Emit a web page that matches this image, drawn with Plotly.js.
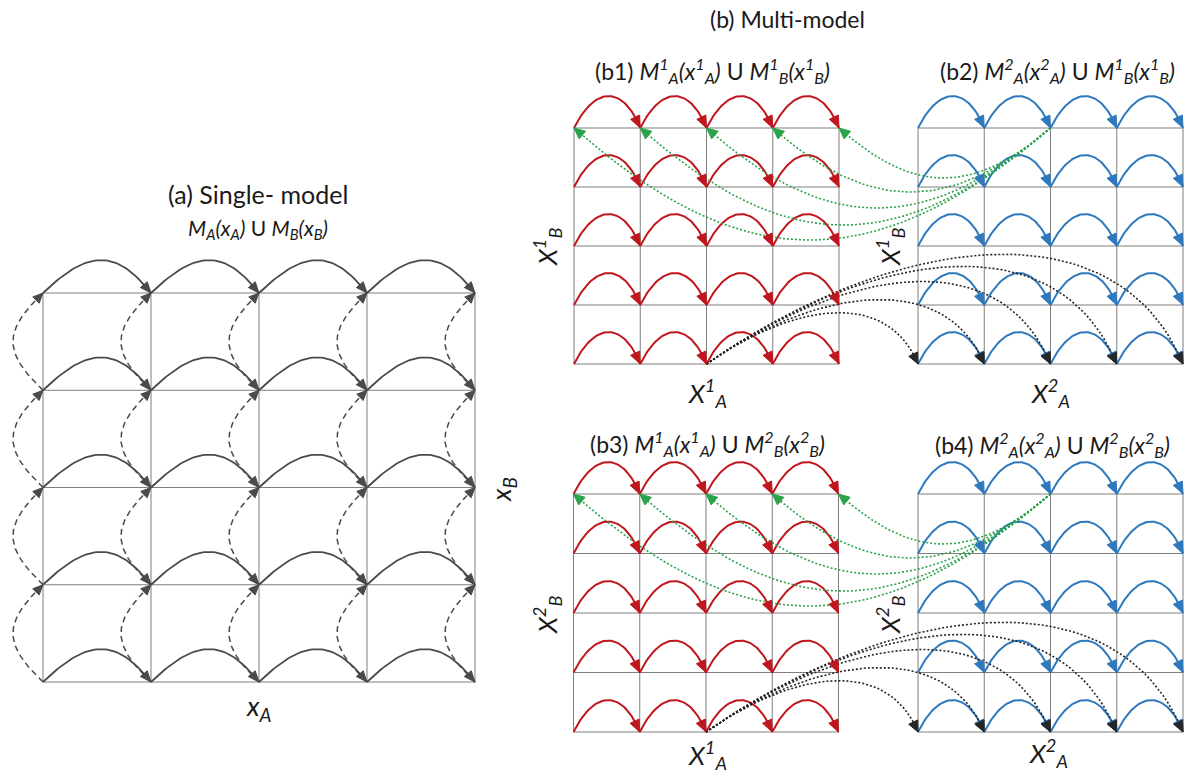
<!DOCTYPE html>
<html><head><meta charset="utf-8">
<script src="https://cdn.plot.ly/plotly-3.0.1.min.js"></script>
<style>html,body{margin:0;padding:0;background:#fff}#chart{width:1190px;height:778px}</style>
</head><body><div id="chart"></div>
<script>
// ---------------- data ----------------
const nodeCols = [0, 1, 2, 3, 4];          // grid node index along x_A
const nodeRows = [0, 1, 2, 3, 4];          // grid node index along x_B
const greenSource = 2;                      // top-row node of right panel
const greenTargets = [0, 1, 2, 3, 4];       // top-row nodes of left panel
const greenDepth = [112, 97, 80, 64, 50];   // dip of each cross-model link
const blackSource = 2;                      // bottom-row node of left panel
const blackTargets = [0, 1, 2, 3, 4];       // bottom-row nodes of right panel
const blackRise = [51, 64, 82, 97, 109];    // rise of each cross-model link
const headTitles = ['(a) Single- model', '(b) Multi-model'];
const subTitleA = '<i>M<sub>A</sub>(x<sub>A</sub>)</i> U <i>M<sub>B</sub>(x<sub>B</sub>)</i>';
const subTitlesB = [
  '(b1) <i>M<sup>1</sup><sub>A</sub>(x<sup>1</sup><sub>A</sub>)</i> U <i>M<sup>1</sup><sub>B</sub>(x<sup>1</sup><sub>B</sub>)</i>',
  '(b2) <i>M<sup>2</sup><sub>A</sub>(x<sup>2</sup><sub>A</sub>)</i> U <i>M<sup>1</sup><sub>B</sub>(x<sup>1</sup><sub>B</sub>)</i>',
  '(b3) <i>M<sup>1</sup><sub>A</sub>(x<sup>1</sup><sub>A</sub>)</i> U <i>M<sup>2</sup><sub>B</sub>(x<sup>2</sup><sub>B</sub>)</i>',
  '(b4) <i>M<sup>2</sup><sub>A</sub>(x<sup>2</sup><sub>A</sub>)</i> U <i>M<sup>2</sup><sub>B</sub>(x<sup>2</sup><sub>B</sub>)</i>'
];
const axisLabelsA = ['<i>x<sub>A</sub></i>', '<i>x<sub>B</sub></i>'];
const axisLabelsB = {
  b1x: '<i>X<sup>1</sup><sub>A</sub></i>', b2x: '<i>X<sup>2</sup><sub>A</sub></i>',
  b3x: '<i>X<sup>1</sup><sub>A</sub></i>', b4x: '<i>X<sup>2</sup><sub>A</sub></i>',
  row1y: '<i>X<sup>1</sup><sub>B</sub></i>', row2y: '<i>X<sup>2</sup><sub>B</sub></i>'
};

// ---------------- layout geometry ----------------
const RED = '#c0161d', BLUE = '#2e78bd', GREEN = '#2aa34a', BLACK = '#262626', GREY = '#4a4a4a', GRID = '#7f7f7f';
const panels = {
  a:  {x0: 43,    y0: 293, w: 108,   h: 97.25, arcH: 33, s1: 0.42, s2: 0.32},
  b1: {x0: 574,   y0: 128, w: 66.25, h: 59,    arcH: 32, s1: 0.32, s2: 0.26},
  b2: {x0: 918,   y0: 128, w: 66.25, h: 59,    arcH: 32, s1: 0.32, s2: 0.26},
  b3: {x0: 573.5, y0: 494, w: 66.25, h: 59.5,  arcH: 32, s1: 0.32, s2: 0.26},
  b4: {x0: 918,   y0: 494, w: 66.25, h: 59.5,  arcH: 32, s1: 0.32, s2: 0.26}
};
function node(p, c, r) { return [p.x0 + c * p.w, p.y0 + r * p.h]; }

function bezPoint(p0, p1, p2, p3, t) {
  const u = 1 - t;
  return [u*u*u*p0[0] + 3*u*u*t*p1[0] + 3*u*t*t*p2[0] + t*t*t*p3[0],
          u*u*u*p0[1] + 3*u*u*t*p1[1] + 3*u*t*t*p2[1] + t*t*t*p3[1]];
}
function bez(p0, p1, p2, p3, n) {
  n = n || 48; const xs = [], ys = [];
  for (let i = 0; i <= n; i++) { const q = bezPoint(p0, p1, p2, p3, i / n); xs.push(q[0]); ys.push(q[1]); }
  return [xs, ys];
}
function Seg() { return {x: [], y: []}; }
function addSeg(s, xs, ys) { s.x.push(...xs, null); s.y.push(...ys, null); }
function addHead(s, tip, from, L, W) {
  let dx = tip[0] - from[0], dy = tip[1] - from[1]; const d = Math.hypot(dx, dy); dx /= d; dy /= d;
  const bx = tip[0] - L * dx, by = tip[1] - L * dy, nx = -dy, ny = dx;
  s.x.push(tip[0], bx + W * nx, bx - W * nx, tip[0], null);
  s.y.push(tip[1], by + W * ny, by - W * ny, tip[1], null);
}

const grids = Seg();
function addGrid(p) {
  const last = nodeCols.length - 1, lastR = nodeRows.length - 1;
  nodeRows.forEach(r => { const a = node(p, 0, r), b = node(p, last, r); addSeg(grids, [a[0], b[0]], [a[1], b[1]]); });
  nodeCols.forEach(c => { const a = node(p, c, 0), b = node(p, c, lastR); addSeg(grids, [a[0], b[0]], [a[1], b[1]]); });
}
Object.values(panels).forEach(addGrid);

function arcsFor(p, lineSeg, headSeg, L, W) {
  nodeRows.forEach(r => {
    nodeCols.slice(0, -1).forEach(c => {
      const A = node(p, c, r), B = node(p, c + 1, r), k = 1.33 * p.arcH;
      const P1 = [A[0] + p.s1 * p.w, A[1] - k], P2 = [B[0] - p.s2 * p.w, B[1] - k];
      const [xs, ys] = bez(A, P1, P2, B);
      addSeg(lineSeg, xs, ys); addHead(headSeg, B, bezPoint(A, P1, P2, B, 0.9), L, W);
    });
  });
}

const aSolid = Seg(), aDash = Seg(), aHeads = Seg();
arcsFor(panels.a, aSolid, aHeads, 11, 4.5);
nodeCols.forEach(c => {
  nodeRows.slice(0, -1).forEach(r => {
    const T = node(panels.a, c, r), B = node(panels.a, c, r + 1);
    const P1 = [B[0] - 40, B[1] - 38], P2 = [T[0] - 40, T[1] + 38];
    const [xs, ys] = bez(B, P1, P2, T);
    addSeg(aDash, xs, ys); addHead(aHeads, T, bezPoint(B, P1, P2, T, 0.9), 10, 4.5);
  });
});

const redArcs = Seg(), blueArcs = Seg(), redHeads = Seg(), blueHeads = Seg();
arcsFor(panels.b1, redArcs, redHeads, 12, 5);
arcsFor(panels.b3, redArcs, redHeads, 12, 5);
arcsFor(panels.b2, blueArcs, blueHeads, 12, 5);
arcsFor(panels.b4, blueArcs, blueHeads, 12, 5);

const greenLinks = Seg(), greenHeads = Seg(), blackLinks = Seg(), blackHeads = Seg();
function greenFor(left, right) {
  const S = node(right, greenSource, 0);
  greenTargets.forEach((c, k) => {
    const T = node(left, c, 0), H = greenDepth[k] / 0.8625;
    const P1 = [S[0] - 1.4 * H, S[1] + 1.2 * H], P2 = [T[0] + 1.25 * H, T[1] + 1.1 * H];
    const [xs, ys] = bez(S, P1, P2, T);
    addSeg(greenLinks, xs, ys); addHead(greenHeads, T, bezPoint(S, P1, P2, T, 0.95), 11, 5);
  });
}
function blackFor(left, right) {
  const S = node(left, blackSource, nodeRows.length - 1);
  blackTargets.forEach((c, k) => {
    const T = node(right, c, nodeRows.length - 1), H = blackRise[k] / 0.89;
    const P1 = [S[0] + 1.5 * H, S[1] - 1.05 * H], P2 = [T[0] - 0.55 * H, T[1] - 1.33 * H];
    const [xs, ys] = bez(S, P1, P2, T);
    addSeg(blackLinks, xs, ys); addHead(blackHeads, T, bezPoint(S, P1, P2, T, 0.95), 11, 5);
  });
}
greenFor(panels.b1, panels.b2); greenFor(panels.b3, panels.b4);
blackFor(panels.b1, panels.b2); blackFor(panels.b3, panels.b4);

function lineTrace(s, color, width, dash) {
  return {type: 'scatter', mode: 'lines', x: s.x, y: s.y, hoverinfo: 'skip', showlegend: false,
          line: {color: color, width: width, dash: dash || 'solid', shape: 'linear'}};
}
function fillTrace(s, color) {
  return {type: 'scatter', mode: 'lines', x: s.x, y: s.y, fill: 'toself', fillcolor: color, hoverinfo: 'skip',
          showlegend: false, line: {color: color, width: 1}};
}
const data = [
  lineTrace(grids, GRID, 1),
  lineTrace(aSolid, GREY, 1.8), lineTrace(aDash, GREY, 1.5, '6px,4px'),
  lineTrace(redArcs, RED, 2), lineTrace(blueArcs, BLUE, 2),
  lineTrace(greenLinks, GREEN, 1.6, '2px,2px'), lineTrace(blackLinks, BLACK, 1.6, '2px,2px'),
  fillTrace(aHeads, GREY), fillTrace(redHeads, RED), fillTrace(blueHeads, BLUE),
  fillTrace(greenHeads, GREEN), fillTrace(blackHeads, BLACK)
];

const FONT = 'Lato, "Open Sans", sans-serif';
function txt(text, x, y, size, angle) {
  return {text: text, x: x, y: y, xref: 'x', yref: 'y', showarrow: false, xanchor: 'center', yanchor: 'middle',
          textangle: angle || 0, font: {family: FONT, size: size, color: '#1a1a1a'}};
}
const annotations = [
  txt(headTitles[0], 258, 194, 25),
  txt(subTitleA, 258, 229, 21),
  txt(axisLabelsA[0], 259, 707, 27),
  txt(axisLabelsA[1], 502, 490, 27, -90),
  txt(headTitles[1], 787, 19, 23),
  txt(subTitlesB[0], 712, 70, 23), txt(subTitlesB[1], 1057, 70, 23),
  txt(subTitlesB[2], 707, 443, 23), txt(subTitlesB[3], 1052, 444, 23),
  txt(axisLabelsB.b1x, 707, 393, 26), txt(axisLabelsB.b2x, 1050, 393, 26),
  txt(axisLabelsB.b3x, 707, 755, 26), txt(axisLabelsB.b4x, 1048, 753, 26),
  txt(axisLabelsB.row1y, 547, 247, 26, -90), txt(axisLabelsB.row1y, 890, 247, 26, -90),
  txt(axisLabelsB.row2y, 547, 615, 26, -90), txt(axisLabelsB.row2y, 890, 615, 26, -90)
];

const layout = {
  width: 1190, height: 778, margin: {l: 0, r: 0, t: 0, b: 0},
  paper_bgcolor: '#ffffff', plot_bgcolor: '#ffffff', showlegend: false,
  xaxis: {range: [0, 1190], visible: false, fixedrange: true},
  yaxis: {range: [778, 0], visible: false, fixedrange: true},
  annotations: annotations
};
Plotly.newPlot('chart', data, layout, {displayModeBar: false, staticPlot: true});
</script></body></html>
